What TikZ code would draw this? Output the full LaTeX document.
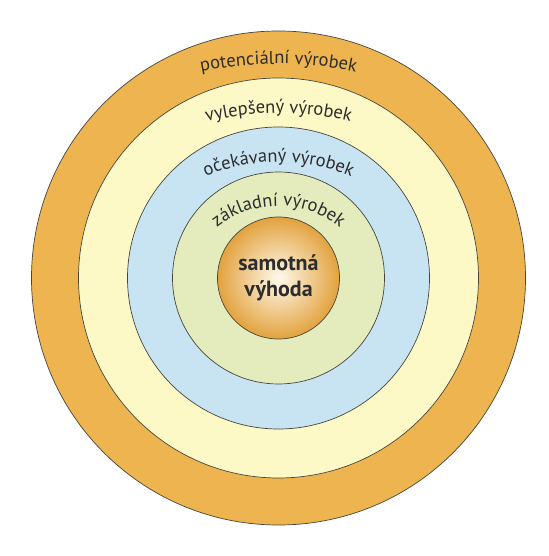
\documentclass[tikz,border=0pt]{standalone}
\usepackage{fontspec}
\setmainfont{PT Sans}
\usetikzlibrary{decorations.text,positioning}
\definecolor{ringOrange}{RGB}{237,180,80}
\definecolor{ringYellow}{RGB}{253,249,198}
\definecolor{ringBlue}{RGB}{200,228,243}
\definecolor{ringGreen}{RGB}{228,236,190}
\definecolor{coreLight}{RGB}{255,250,236}
\definecolor{coreOrange}{RGB}{226,162,62}
\definecolor{edgeGray}{RGB}{70,70,60}
\definecolor{labelGray}{RGB}{45,45,45}

\begin{document}
\begin{tikzpicture}[
  ring/.style={circle,draw=edgeGray,line width=0.7pt,inner sep=0pt,minimum size=#1},
  arclbl/.style={decorate,decoration={text along path,text align=center,
      text color=labelGray,text={|\fontsize{18.5pt}{22pt}\selectfont|#1}}}
]
  \fill[white] (-278.5pt,-278pt) rectangle (269.5pt,278pt);
  \useasboundingbox (-278.5pt,-278pt) rectangle (269.5pt,278pt);
  % rings, outside in
  \node[ring=494pt,fill=ringOrange] (potencialni) at (0,0) {};
  \node[ring=400pt,fill=ringYellow] (vylepseny) at (0,0) {};
  \node[ring=302pt,fill=ringBlue]   (ocekavany) at (0,0) {};
  \node[ring=212pt,fill=ringGreen]  (zakladni) at (0,0) {};
  \node[ring=122pt,shading=radial,inner color=coreLight,outer color=coreOrange,
        align=center,text=labelGray,font=\bfseries\fontsize{22pt}{26pt}\selectfont]
        (vyhoda) at (0,0) {samotná\\výhoda};
  % curved labels
  \path[arclbl={potenciální výrobek},shift={(0,-166pt)}]
      (150:380pt) arc[start angle=150,end angle=30,radius=380pt];
  \path[arclbl={vylepšený výrobek},shift={(0,-135pt)}]
      (150:300pt) arc[start angle=150,end angle=30,radius=300pt];
  \path[arclbl={očekávaný výrobek},shift={(0,-74pt)}]
      (160:190pt) arc[start angle=160,end angle=20,radius=190pt];
  \path[arclbl={základní výrobek},shift={(0,-28pt)}]
      (170:100pt) arc[start angle=170,end angle=10,radius=100pt];
\end{tikzpicture}
\end{document}
